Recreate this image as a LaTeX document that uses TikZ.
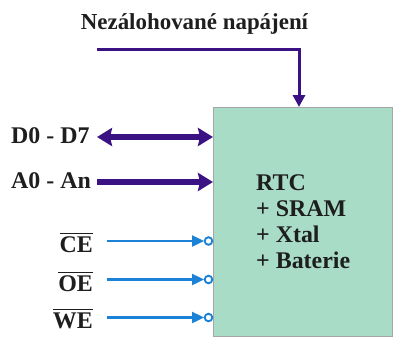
\documentclass[tikz,border=0pt]{standalone}
\usepackage{fontspec}
\setmainfont{Liberation Serif}
\usetikzlibrary{arrows.meta}
\definecolor{busP}{HTML}{3A1283}
\definecolor{ctlB}{HTML}{1C82D6}
\definecolor{boxG}{HTML}{A8DCC6}
\definecolor{txtK}{HTML}{1E1E1E}
\newcommand\myovl[1]{\leavevmode\vbox{\hrule height 1.6bp\kern 2bp\hbox{#1}}}
\tikzset{
  bushead/.tip={Stealth[length=15bp,width=18bp,inset=2bp]},
  lbl/.style={font=\bfseries\fontsize{24}{26}\selectfont, text=txtK, inner sep=0pt},
  bus/.style={draw=busP, line width=5.5bp},
  ctl/.style={draw=ctlB, line width=2.4bp, -{Triangle[length=12bp,width=11bp]}},
  pwr/.style={draw=busP, line width=3bp, -{Triangle[length=12bp,width=12bp]}},
}
\begin{document}
\begin{tikzpicture}[x=1bp,y=-1bp]
\useasboundingbox (0,0) rectangle (393,338);
\node[draw=gray!70, line width=0.8bp, fill=boxG, minimum width=179bp, minimum height=229bp, anchor=north west, inner sep=0pt] (rtc) at (213,107) {};
\node[lbl, anchor=base west, align=left] (txt) at (256,268) {RTC\\+ SRAM\\+ Xtal\\+ Baterie};
\node[lbl, anchor=base, font=\bfseries\fontsize{23}{26}\selectfont] (title) at (194.5,29) {Nezálohované napájení};
\coordinate (ps) at (97,49);
\coordinate (pt) at (299,107);
\draw[pwr] (ps) -- (ps -| pt) -- (pt);
\node[lbl, anchor=base west] (d) at (11,143.5) {D0 - D7};
\node[lbl, anchor=base west] (a) at (11,188.5) {A0 - An};
\coordinate (ds) at (97,137);
\coordinate (de) at (213,137);
\coordinate (as) at (97,182);
\coordinate (ae) at (213,182);
\draw[bus, bushead-bushead] (ds) -- (de);
\draw[bus, -bushead] (as) -- (ae);
\foreach \n/\t/\y/\b in {ce/CE/241/252, oe/OE/279.5/291, we/WE/317.5/328}{
  \node[lbl, anchor=base east] (\n) at (93,\b) {\myovl{\t}};
  \coordinate (\n s) at (107,\y);
  \coordinate (\n c) at (208.5,\y);
  \draw[ctl] (\n s) -- (204,\y);
  \draw[ctlB, line width=1.9bp, fill=white] (\n c) circle (3.8bp);
}
\end{tikzpicture}
\end{document}
